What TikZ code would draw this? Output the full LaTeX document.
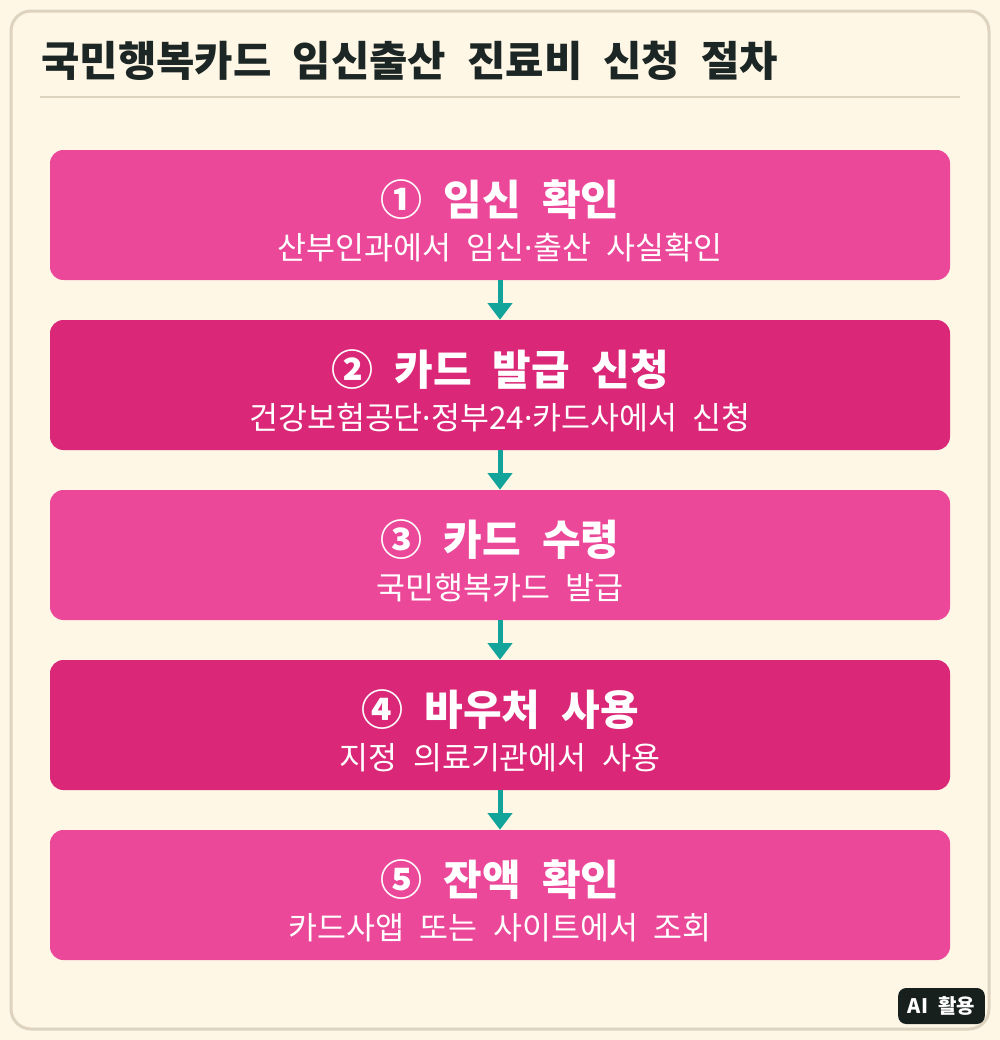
\documentclass[tikz,border=0pt]{standalone}
\usepackage{fontspec}
\setmainfont[WordSpace=2.2]{Noto Sans CJK KR}
\newfontfamily\latinfont{Noto Sans}
\newcommand\middot{{\latinfont ·}}
\usetikzlibrary{arrows.meta,positioning}

\definecolor{paper}{HTML}{FEF7E6}
\definecolor{frameline}{HTML}{DDD3BF}
\definecolor{inkdark}{HTML}{1C2624}
\definecolor{pinklight}{HTML}{EC4899}
\definecolor{pinkdark}{HTML}{DB2777}
\definecolor{tealarrow}{HTML}{12A39A}
\definecolor{badgefill}{HTML}{18201E}

\begin{document}
\begin{tikzpicture}[x=0.75pt,y=-0.75pt]

\tikzset{
    stepbox/.style={rounded corners=10pt, minimum width=675pt, minimum height=97.5pt, inner sep=0pt},
    steptitle/.style={text=white, inner sep=0pt, font=\bfseries\fontsize{31.5pt}{33pt}\selectfont},
    stepsub/.style={text=white, inner sep=0pt, font=\fontsize{23.6pt}{25pt}\selectfont},
    flow/.style={draw=tealarrow, line width=3.75pt, -{Triangle[width=18pt,length=12.5pt]}}
}

%% Background and frame
\useasboundingbox (0,0) rectangle (1000,1040);
\fill[paper] (0,0) rectangle (1000,1040);
\draw[frameline, line width=2.25pt, fill=paper, rounded corners=15pt] (11,11) rectangle (989,1029);

%% Title
\node[anchor=west, inner sep=0pt, text=inkdark, font=\bfseries\fontsize{31.3pt}{33pt}\selectfont] (title) at (41,61) {국민행복카드 임신출산 진료비 신청 절차};
\draw[frameline, line width=1.5pt] (40,97) -- (960,97);

%% Steps
\node[stepbox, fill=pinklight] (s1) at (500,215) {};
\node[steptitle] (s1t) at (500,200) {① 임신 확인};
\node[stepsub] (s1s) at (500,248) {산부인과에서 임신\middot 출산 사실확인};

\node[stepbox, fill=pinkdark] (s2) at (500,385) {};
\node[steptitle] (s2t) at (500,370) {② 카드 발급 신청};
\node[stepsub] (s2s) at (500,418) {건강보험공단\middot 정부24\middot 카드사에서 신청};

\node[stepbox, fill=pinklight] (s3) at (500,555) {};
\node[steptitle] (s3t) at (500,540) {③ 카드 수령};
\node[stepsub] (s3s) at (500,588) {국민행복카드 발급};

\node[stepbox, fill=pinkdark] (s4) at (500,725) {};
\node[steptitle] (s4t) at (500,710) {④ 바우처 사용};
\node[stepsub] (s4s) at (500,758) {지정 의료기관에서 사용};

\node[stepbox, fill=pinklight] (s5) at (500,895) {};
\node[steptitle] (s5t) at (500,880) {⑤ 잔액 확인};
\node[stepsub] (s5s) at (500,928) {카드사앱 또는 사이트에서 조회};

%% Arrows
\foreach \a/\b in {s1/s2,s2/s3,s3/s4,s4/s5}{
    \draw[flow] (\a.south) -- (\b.north);
}

%% Badge
\node[fill=badgefill, text=white, rounded corners=6pt, minimum width=65pt, minimum height=27pt, inner sep=0pt, font=\bfseries\fontsize{15pt}{16pt}\selectfont] (badge) at (941.5,1006) {AI 활용};

\end{tikzpicture}
\end{document}
